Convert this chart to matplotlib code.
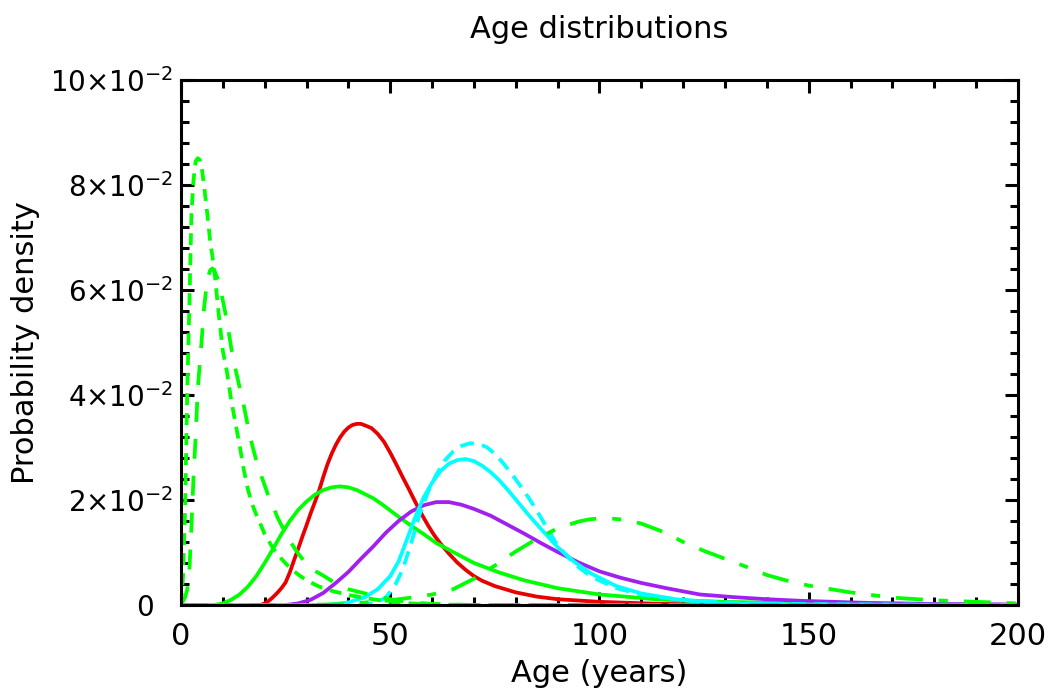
import matplotlib
matplotlib.use("Agg")
import matplotlib.pyplot as plt

plt.rcParams['font.family'] = ['DejaVu Sans']
plt.rcParams['mathtext.fontset'] = 'dejavusans'
plt.rcParams['lines.scale_dashes'] = False

# age grid (years) and probability density for each population
age_short = [0, 0.5, 1, 1.5, 2, 2.5, 3, 3.5, 4, 4.5, 5, 5.5, 6, 6.5, 7, 7.5, 8, 9, 10, 11, 12, 13, 14, 15,
             16, 17, 18, 19, 20, 22, 24, 26, 28, 30, 33, 36, 40, 45, 50, 55, 60, 70, 200]
dens_short = [0, 0.0055, 0.019, 0.041, 0.057, 0.0745, 0.081, 0.0845, 0.0851, 0.0848, 0.083, 0.080, 0.0765,
              0.073, 0.069, 0.0665, 0.0635, 0.0555, 0.0484, 0.0443, 0.039, 0.0347, 0.0305, 0.0258, 0.022,
              0.0192, 0.0172, 0.0154, 0.0135, 0.0108, 0.0088, 0.0071, 0.0058, 0.0047, 0.0035, 0.0027,
              0.0019, 0.0012, 0.0006, 0.0003, 0.0001, 0, 0]

age_long = [0, 1, 1.5, 2, 2.5, 3, 3.5, 4, 4.5, 5, 5.5, 6, 6.5, 7, 7.5, 8, 9, 10, 11, 12, 13, 14, 15, 16, 17,
            18, 19, 20, 21, 22, 23, 24, 26, 28, 30, 32, 34, 36, 38, 40, 43, 46, 50, 55, 60, 70, 200]
dens_long = [0, 0.0015, 0.003, 0.0065, 0.015, 0.0245, 0.032, 0.041, 0.046, 0.051, 0.0565, 0.060, 0.0625,
             0.0638, 0.0641, 0.0636, 0.0617, 0.058, 0.054, 0.049, 0.045, 0.0415, 0.038, 0.034, 0.0305,
             0.0275, 0.025, 0.0228, 0.0205, 0.0188, 0.0168, 0.0152, 0.0122, 0.0098, 0.0078, 0.0065,
             0.0056, 0.0046, 0.0037, 0.003, 0.0024, 0.0018, 0.0011, 0.0005, 0.0002, 0, 0]

age_green = [0, 8, 10, 12, 14, 16, 18, 20, 22, 24, 26, 28, 30, 32, 34, 36, 38, 40, 42, 44, 46, 48, 50, 52,
             55, 58, 61, 65, 70, 76, 82, 90, 100, 115, 130, 150, 175, 200]
dens_green = [0, 0, 0.0003, 0.0010, 0.0020, 0.0035, 0.0055, 0.0080, 0.0107, 0.0135, 0.0160, 0.0181, 0.0197,
              0.0210, 0.0219, 0.0224, 0.0226, 0.0224, 0.0219, 0.0211, 0.0203, 0.0192, 0.0180, 0.0168,
              0.0151, 0.0135, 0.0118, 0.0101, 0.0080, 0.0062, 0.0047, 0.0032, 0.0020, 0.0010, 0.0006,
              0.0003, 0.0001, 0]

age_old = [0, 30, 40, 50, 55, 60, 65, 70, 75, 80, 85, 90, 95, 97.5, 100, 102.5, 105, 107.5, 110, 115, 120,
           125, 130, 135, 140, 145, 150, 160, 170, 180, 190, 200]
dens_old = [0, 0, 0.0002, 0.0009, 0.0014, 0.0020, 0.0030, 0.0050, 0.0075, 0.0102, 0.0126, 0.0146, 0.0159,
            0.0163, 0.0165, 0.0165, 0.0163, 0.0160, 0.0155, 0.0140, 0.0120, 0.0103, 0.0088, 0.0073,
            0.0057, 0.0046, 0.0037, 0.0024, 0.0014, 0.0009, 0.0006, 0.0003]

age_red = [0, 19, 20, 21, 22, 23, 24, 25, 26, 27, 28, 29, 30, 31, 32, 33, 34, 35, 36, 37, 38, 39, 40, 41,
           42, 43, 44, 45.5, 47, 48.5, 50, 51.5, 53, 54.5, 56, 57.5, 59, 60.5, 62, 64, 66, 68, 70, 72,
           75, 80, 85, 90, 100, 115, 130, 200]
dens_red = [0, 0, 0.0003, 0.0008, 0.0015, 0.0023, 0.0032, 0.0043, 0.0062, 0.0085, 0.0107, 0.0130, 0.0152,
            0.0175, 0.0196, 0.0218, 0.0244, 0.0268, 0.0288, 0.0305, 0.0319, 0.0330, 0.0338, 0.0343,
            0.0345, 0.0345, 0.0342, 0.0337, 0.0326, 0.0311, 0.0290, 0.0267, 0.0243, 0.0220, 0.0196,
            0.0173, 0.0152, 0.0133, 0.0117, 0.0098, 0.0081, 0.0067, 0.0055, 0.0046, 0.0036, 0.0024,
            0.0016, 0.0011, 0.0006, 0.0002, 0.0001, 0]

age_purple = [0, 25, 28, 31, 34, 37, 40, 43, 46, 49, 52, 55, 58, 61, 64, 67, 70, 74, 78, 82, 86, 90, 95,
              100, 105, 110, 116, 124, 132, 140, 148, 164, 180, 200]
dens_purple = [0, 0, 0.0003, 0.0010, 0.0023, 0.0042, 0.0063, 0.0088, 0.0112, 0.0138, 0.0160, 0.0178,
               0.0190, 0.0196, 0.0196, 0.0191, 0.0183, 0.0170, 0.0153, 0.0136, 0.0118, 0.0101, 0.0081,
               0.0064, 0.0052, 0.0042, 0.0032, 0.0020, 0.0015, 0.0011, 0.0008, 0.0004, 0.0002, 0.0001]

age_cyan = [0, 35, 40, 44, 47, 50, 52, 54, 56, 58, 60, 62, 64, 66, 68, 70, 72, 74, 76, 78, 80, 83, 86, 90,
            94, 98, 104, 110, 118, 130, 150, 200]
dens_cyan = [0, 0, 0.0005, 0.0015, 0.0030, 0.0055, 0.0083, 0.0125, 0.0168, 0.0205, 0.0233, 0.0255,
             0.0269, 0.0276, 0.0278, 0.0274, 0.0265, 0.0253, 0.0238, 0.0220, 0.0201, 0.0172, 0.0145,
             0.0110, 0.0082, 0.0060, 0.0036, 0.0022, 0.0011, 0.0003, 0.0001, 0]

age_cyan2 = [0, 44, 47, 49, 51, 53, 55, 57, 59, 61, 63, 65, 67, 69, 71, 73, 75, 77, 79, 81, 83, 85, 87, 90,
             94, 98, 104, 110, 120, 135, 160, 200]
dens_cyan2 = [0, 0, 0.0005, 0.0015, 0.0035, 0.0068, 0.0118, 0.0172, 0.0215, 0.0248, 0.0275, 0.0292,
              0.0303, 0.0308, 0.0307, 0.0301, 0.0288, 0.0270, 0.0250, 0.0228, 0.0205, 0.0180, 0.0153,
              0.0113, 0.0078, 0.0054, 0.0032, 0.0020, 0.0009, 0.0003, 0.0001, 0]

x_ticks = [0, 50, 100, 150, 200]
x_tick_labels = ['0', '50', '100', '150', '200']
y_ticks = [0, 0.02, 0.04, 0.06, 0.08, 0.10]
y_tick_labels = ['0  ', r'$2{\times}10^{-2}$', r'$4{\times}10^{-2}$', r'$6{\times}10^{-2}$',
                 r'$8{\times}10^{-2}$', r'$10{\times}10^{-2}$']

GREEN = '#00ff00'
RED = '#e80000'
PURPLE = '#a020f0'
CYAN = '#00ffff'
lw = 2.7

fig = plt.figure(figsize=(10.51, 6.93), dpi=100)
ax = fig.add_axes([0.1722, 0.1270, 0.7964, 0.7576])

ax.plot(age_red, dens_red, color=RED, lw=lw)
ax.plot(age_green, dens_green, color=GREEN, lw=lw)
ax.plot(age_purple, dens_purple, color=PURPLE, lw=lw)
ax.plot(age_cyan2, dens_cyan2, color=CYAN, lw=lw, dashes=(10, 6))
ax.plot(age_cyan, dens_cyan, color=CYAN, lw=lw)
ax.plot(age_old, dens_old, color=GREEN, lw=lw, dashes=(19.4, 11.5, 6.5, 11.5))
ax.plot(age_long, dens_long, color=GREEN, lw=lw, dashes=(14.4, 12.2))
ax.plot(age_short, dens_short, color=GREEN, lw=lw, dashes=(8.6, 5.8))

ax.set_xlim(0, 200)
ax.set_ylim(0, 0.10)
ax.set_xticks(x_ticks)
ax.set_xticklabels(x_tick_labels)
ax.set_xticks(range(0, 201, 10), minor=True)
ax.set_yticks(y_ticks)
ax.set_yticklabels(y_tick_labels)
ax.set_yticks([i * 0.004 for i in range(26)], minor=True)

for s in ax.spines.values():
    s.set_linewidth(2.2)
ax.tick_params(which='both', direction='in', top=True, right=True, width=2.2, color='black')
ax.tick_params(which='major', length=9.5)
ax.tick_params(which='minor', length=5.8)
ax.tick_params(axis='x', which='major', labelsize=22, pad=12)
ax.tick_params(axis='y', which='major', labelsize=20, pad=6)

ax.set_title('Age distributions', fontsize=22, pad=30)
ax.set_xlabel('Age (years)', fontsize=22, labelpad=6)
ax.set_ylabel('Probability density', fontsize=22)
ax.yaxis.set_label_coords(-0.168, 0.5)

fig.savefig('out.png', dpi=100)
plt.close(fig)
